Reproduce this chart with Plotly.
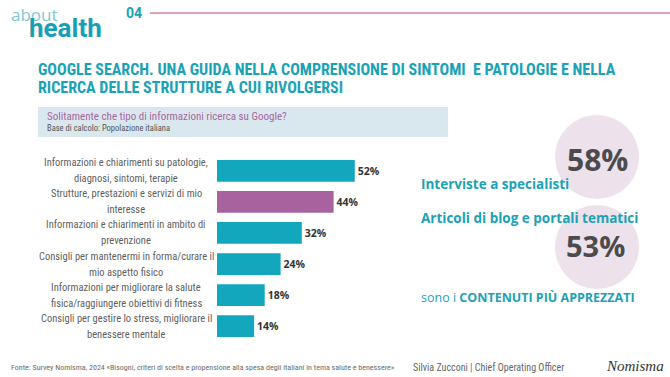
import plotly.graph_objects as go

W, H = 670, 377

categories = [
    "Informazioni e chiarimenti su patologie,<br>diagnosi, sintomi, terapie",
    "Strutture, prestazioni e servizi di mio<br>interesse",
    "Informazioni e chiarimenti in ambito di<br>prevenzione",
    "Consigli per mantenermi in forma/curare il<br>mio aspetto fisico",
    "Informazioni per migliorare la salute<br>fisica/raggiungere obiettivi di fitness",
    "Consigli per gestire lo stress, migliorare il<br>benessere mentale",
]
values = [52, 44, 32, 24, 18, 14]
bar_colors = ["#12A7BD", "#A8639F", "#12A7BD", "#12A7BD", "#12A7BD", "#12A7BD"]
value_labels = [f"{v}%" for v in values]

highlight_values = ["58%", "53%"]
highlight_labels = ["Interviste a specialisti", "Articoli di blog e portali tematici"]

TEAL = "#1AA2B6"
LABEL_FONT = "Liberation Sans Narrow, Roboto Condensed, Roboto, sans-serif"
MAIN_FONT = "Roboto, Open Sans, sans-serif"
ROUND_FONT = "Open Sans, Roboto, sans-serif"


def px(x):
    return x / W


def py(y):
    return 1 - y / H


fig = go.Figure()
fig.add_trace(go.Bar(
    x=values, y=categories, orientation="h",
    marker=dict(color=bar_colors, line=dict(width=0)),
    width=0.7,
    text=value_labels, textposition="outside",
    textfont=dict(family=ROUND_FONT, size=10.5, color="#333333", weight="bold"),
    cliponaxis=False, hoverinfo="skip",
))

x0_plot, scale = 217, 2.65
xmax = 60
fig.update_xaxes(domain=[px(x0_plot), px(x0_plot + xmax * scale)], range=[0, xmax],
                 visible=False, fixedrange=True)
fig.update_yaxes(domain=[py(342.7), py(154.3)], autorange="reversed",
                 showticklabels=False, showgrid=False, zeroline=False, fixedrange=True)

annotations = []
# category labels, two centered lines each
for cat in categories:
    lines = cat.split("<br>")
    for i, ln in enumerate(lines):
        annotations.append(dict(
            x=px(126), xref="paper", y=cat, yref="y", text=ln, showarrow=False,
            xanchor="center", yanchor="middle", yshift=8 - 16 * i,
            font=dict(family=LABEL_FONT, size=10.5, color="#5f5f5f"),
        ))

# Logo
annotations.append(dict(x=px(9), y=py(14), xref="paper", yref="paper", text="about",
                        showarrow=False, xanchor="left", yanchor="middle",
                        font=dict(family=ROUND_FONT, size=17, color="#7DC9D2")))
annotations.append(dict(x=px(27), y=py(28), xref="paper", yref="paper", text="<b>health</b>",
                        showarrow=False, xanchor="left", yanchor="middle",
                        font=dict(family=MAIN_FONT, size=26, color="#17A0B5")))
annotations.append(dict(x=px(124), y=py(13), xref="paper", yref="paper", text="<b>04</b>",
                        showarrow=False, xanchor="left", yanchor="middle",
                        font=dict(family=MAIN_FONT, size=14, color=TEAL)))

# Title
for txt, yy in [("GOOGLE SEARCH. UNA GUIDA NELLA COMPRENSIONE DI SINTOMI  E PATOLOGIE E NELLA", 69),
                ("RICERCA DELLE STRUTTURE A CUI RIVOLGERSI", 87)]:
    annotations.append(dict(x=px(36), y=py(yy), xref="paper", yref="paper", text=f"<b>{txt}</b>",
                            showarrow=False, xanchor="left", yanchor="middle",
                            font=dict(family=LABEL_FONT, size=16, color=TEAL)))

# Question box text
annotations.append(dict(x=px(45), y=py(116), xref="paper", yref="paper",
                        text="Solitamente che tipo di informazioni ricerca su Google?",
                        showarrow=False, xanchor="left", yanchor="middle",
                        font=dict(family=LABEL_FONT, size=11, color="#A9659F")))
annotations.append(dict(x=px(45), y=py(128), xref="paper", yref="paper",
                        text="Base di calcolo: Popolazione italiana",
                        showarrow=False, xanchor="left", yanchor="middle",
                        font=dict(family=LABEL_FONT, size=8.5, color="#555555")))

# Right side highlights
annotations.append(dict(x=px(597), y=py(159), xref="paper", yref="paper", text=f"<b>{highlight_values[0]}</b>",
                        showarrow=False, xanchor="center", yanchor="middle",
                        font=dict(family=ROUND_FONT, size=30, color="#4B4B4D")))
annotations.append(dict(x=px(595), y=py(245), xref="paper", yref="paper", text=f"<b>{highlight_values[1]}</b>",
                        showarrow=False, xanchor="center", yanchor="middle",
                        font=dict(family=ROUND_FONT, size=29, color="#4B4B4D")))
for txt, yy in zip(highlight_labels, [184, 218]):
    annotations.append(dict(x=px(419), y=py(yy), xref="paper", yref="paper", text=f"<b>{txt}</b>",
                            showarrow=False, xanchor="left", yanchor="middle",
                            font=dict(family=ROUND_FONT, size=13.5, color=TEAL)))
annotations.append(dict(x=px(419), y=py(297), xref="paper", yref="paper",
                        text="sono i <b>CONTENUTI PIÙ APPREZZATI</b>",
                        showarrow=False, xanchor="left", yanchor="middle",
                        font=dict(family=ROUND_FONT, size=12.5, color=TEAL)))

# Footer
annotations.append(dict(x=px(9), y=py(367), xref="paper", yref="paper",
                        text="Fonte: Survey Nomisma, 2024 «Bisogni, criteri di scelta e propensione alla spesa degli italiani in tema salute e benessere»",
                        showarrow=False, xanchor="left", yanchor="middle",
                        font=dict(family=LABEL_FONT, size=8, color="#6b6b6b")))
annotations.append(dict(x=px(411), y=py(367), xref="paper", yref="paper",
                        text="Silvia Zucconi | Chief Operating Officer",
                        showarrow=False, xanchor="left", yanchor="middle",
                        font=dict(family=LABEL_FONT, size=10, color="#666666")))
annotations.append(dict(x=px(604), y=py(366), xref="paper", yref="paper",
                        text="<i>Nomisma</i>",
                        showarrow=False, xanchor="left", yanchor="middle",
                        font=dict(family="Liberation Serif, DejaVu Serif, serif", size=15,
                                  color="#333333", style="italic")))

shapes = [
    dict(type="line", xref="paper", yref="paper", x0=px(150), x1=px(670), y0=py(13), y1=py(13),
         line=dict(color="#C4417E", width=1)),
    dict(type="rect", xref="paper", yref="paper", x0=px(38), x1=px(448), y0=py(107), y1=py(137),
         fillcolor="#D9E8EF", line=dict(width=0), layer="below"),
    dict(type="circle", xref="paper", yref="paper", x0=px(597 - 42), x1=px(597 + 42),
         y0=py(157 + 42), y1=py(157 - 42), fillcolor="#EDE1EB", line=dict(width=0), layer="below"),
    dict(type="circle", xref="paper", yref="paper", x0=px(597 - 42), x1=px(597 + 42),
         y0=py(247 + 42), y1=py(247 - 42), fillcolor="#EDE1EB", line=dict(width=0), layer="below"),
]

fig.update_layout(
    width=W, height=H, margin=dict(l=0, r=0, t=0, b=0),
    paper_bgcolor="white", plot_bgcolor="rgba(0,0,0,0)",
    showlegend=False, annotations=annotations, shapes=shapes,
    bargap=0.3,
)

fig.write_html("out.html", config={"displayModeBar": False},
               post_script="document.body.style.margin='0';document.body.style.overflow='hidden';")
